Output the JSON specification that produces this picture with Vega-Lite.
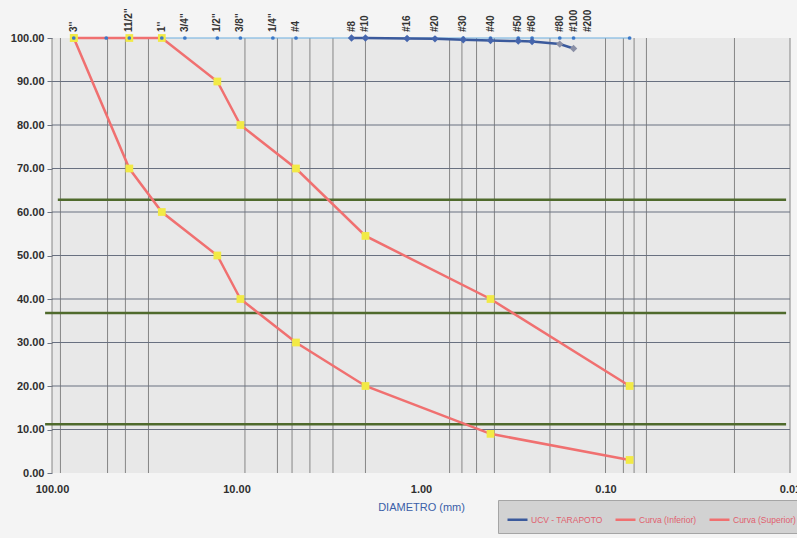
{
  "$schema": "https://vega.github.io/schema/vega-lite/v6.json",
  "width": 738,
  "height": 435,
  "autosize": {"type": "none"},
  "padding": {"left": 52, "top": 38, "right": 7, "bottom": 65},
  "background": "#f4f4f4",
  "config": {"view": {"fill": "#e8e8e8", "stroke": null}, "font": "Liberation Sans"},
  "datasets": {
    "vgrid": [
      {"mm": 100}, {"mm": 90}, {"mm": 50}, {"mm": 40}, {"mm": 30},
      {"mm": 9}, {"mm": 6}, {"mm": 5}, {"mm": 4}, {"mm": 3}, {"mm": 2},
      {"mm": 0.7}, {"mm": 0.6}, {"mm": 0.5}, {"mm": 0.4}, {"mm": 0.2},
      {"mm": 0.1}, {"mm": 0.08}, {"mm": 0.07}, {"mm": 0.06}, {"mm": 0.02}, {"mm": 0.01}
    ],
    "hgrid": [
      {"pasa": 10}, {"pasa": 20}, {"pasa": 30}, {"pasa": 40}, {"pasa": 50},
      {"pasa": 60}, {"pasa": 70}, {"pasa": 80}, {"pasa": 90}
    ],
    "green": [
      {"pasa": 62.8, "mm": 93, "mm2": 0.0105},
      {"pasa": 36.8, "mm": 109, "mm2": 0.0105},
      {"pasa": 11.2, "mm": 109, "mm2": 0.0105}
    ],
    "sieves": [
      {"label": "3''", "mm": 76.2, "pasa": 100},
      {"label": "", "mm": 50.8, "pasa": 100},
      {"label": "11/2''", "mm": 38.1, "pasa": 100},
      {"label": "1''", "mm": 25.4, "pasa": 100},
      {"label": "3/4''", "mm": 19.05, "pasa": 100},
      {"label": "1/2''", "mm": 12.7, "pasa": 100},
      {"label": "3/8''", "mm": 9.525, "pasa": 100},
      {"label": "1/4''", "mm": 6.35, "pasa": 100},
      {"label": "#4", "mm": 4.76, "pasa": 100},
      {"label": "#8", "mm": 2.38, "pasa": 100},
      {"label": "#10", "mm": 2.0, "pasa": 100},
      {"label": "#16", "mm": 1.19, "pasa": 100},
      {"label": "#20", "mm": 0.84, "pasa": 100},
      {"label": "#30", "mm": 0.59, "pasa": 100},
      {"label": "#40", "mm": 0.42, "pasa": 100},
      {"label": "#50", "mm": 0.297, "pasa": 100},
      {"label": "#60", "mm": 0.25, "pasa": 100},
      {"label": "#80", "mm": 0.177, "pasa": 100},
      {"label": "#100", "mm": 0.149, "pasa": 100},
      {"label": "#200", "mm": 0.074, "pasa": 100}
    ],
    "series": [
      {"serie": "UCV - TARAPOTO", "mm": 2.38, "pasa": 100},
      {"serie": "UCV - TARAPOTO", "mm": 2.0, "pasa": 100},
      {"serie": "UCV - TARAPOTO", "mm": 1.19, "pasa": 99.9},
      {"serie": "UCV - TARAPOTO", "mm": 0.84, "pasa": 99.8},
      {"serie": "UCV - TARAPOTO", "mm": 0.59, "pasa": 99.6},
      {"serie": "UCV - TARAPOTO", "mm": 0.42, "pasa": 99.4},
      {"serie": "UCV - TARAPOTO", "mm": 0.297, "pasa": 99.3},
      {"serie": "UCV - TARAPOTO", "mm": 0.25, "pasa": 99.2},
      {"serie": "UCV - TARAPOTO", "mm": 0.177, "pasa": 98.6},
      {"serie": "UCV - TARAPOTO", "mm": 0.149, "pasa": 97.6},
      {"serie": "Curva (Inferior)", "mm": 76.2, "pasa": 100},
      {"serie": "Curva (Inferior)", "mm": 38.1, "pasa": 70},
      {"serie": "Curva (Inferior)", "mm": 25.4, "pasa": 60},
      {"serie": "Curva (Inferior)", "mm": 12.7, "pasa": 50},
      {"serie": "Curva (Inferior)", "mm": 9.525, "pasa": 40},
      {"serie": "Curva (Inferior)", "mm": 4.76, "pasa": 30},
      {"serie": "Curva (Inferior)", "mm": 2.0, "pasa": 20},
      {"serie": "Curva (Inferior)", "mm": 0.42, "pasa": 9},
      {"serie": "Curva (Inferior)", "mm": 0.074, "pasa": 3},
      {"serie": "Curva (Superior)", "mm": 76.2, "pasa": 100},
      {"serie": "Curva (Superior)", "mm": 38.1, "pasa": 100},
      {"serie": "Curva (Superior)", "mm": 25.4, "pasa": 100},
      {"serie": "Curva (Superior)", "mm": 12.7, "pasa": 90},
      {"serie": "Curva (Superior)", "mm": 9.525, "pasa": 80},
      {"serie": "Curva (Superior)", "mm": 4.76, "pasa": 70},
      {"serie": "Curva (Superior)", "mm": 2.0, "pasa": 54.5},
      {"serie": "Curva (Superior)", "mm": 0.42, "pasa": 40},
      {"serie": "Curva (Superior)", "mm": 0.074, "pasa": 20}
    ]
  },
  "layer": [
    {
      "data": {"name": "vgrid"},
      "mark": {"type": "rule", "color": "#7a7a7a", "strokeWidth": 0.9},
      "encoding": {
        "x": {
          "field": "mm",
          "type": "quantitative",
          "scale": {"type": "log", "domain": [0.01, 100], "reverse": true, "nice": false},
          "axis": {
            "values": [100, 10, 1, 0.1, 0.01],
            "format": ".2f",
            "grid": false,
            "ticks": false,
            "domain": false,
            "labelFlush": false,
            "labelOverlap": false,
            "labelPadding": 10,
            "labelFontSize": 11,
            "labelFontWeight": "bold",
            "labelColor": "#2e2e2e",
            "title": "DIAMETRO (mm)",
            "titleFontSize": 11,
            "titleFontWeight": "normal",
            "titleColor": "#3a5ea8",
            "titlePadding": 7
          }
        }
      }
    },
    {
      "data": {"name": "hgrid"},
      "mark": {"type": "rule", "color": "#687080", "strokeWidth": 1},
      "encoding": {
        "y": {
          "field": "pasa",
          "type": "quantitative",
          "scale": {"domain": [0, 100], "nice": false, "zero": false},
          "axis": {
            "values": [0, 10, 20, 30, 40, 50, 60, 70, 80, 90, 100],
            "format": ".2f",
            "grid": false,
            "domain": false,
            "tickSize": 5,
            "tickColor": "#6b7383",
            "labelPadding": 3,
            "labelFontSize": 11,
            "labelFontWeight": "bold",
            "labelColor": "#2e2e2e",
            "title": null
          }
        }
      }
    },
    {
      "data": {"name": "green"},
      "mark": {"type": "rule", "color": "#4f6a2c", "strokeWidth": 2.5},
      "encoding": {
        "x": {"field": "mm", "type": "quantitative", "scale": {"type": "log", "domain": [0.01, 100], "reverse": true, "nice": false}},
        "x2": {"field": "mm2"},
        "y": {"field": "pasa", "type": "quantitative", "scale": {"domain": [0, 100], "nice": false, "zero": false}}
      }
    },
    {
      "data": {"name": "sieves"},
      "mark": {"type": "line", "color": "#6aaee0", "strokeWidth": 1.2},
      "encoding": {
        "x": {"field": "mm", "type": "quantitative", "scale": {"type": "log", "domain": [0.01, 100], "reverse": true, "nice": false}},
        "y": {"field": "pasa", "type": "quantitative", "scale": {"domain": [0, 100], "nice": false, "zero": false}}
      }
    },
    {
      "data": {"name": "series"},
      "mark": {"type": "line", "strokeWidth": 2.5},
      "encoding": {
        "x": {"field": "mm", "type": "quantitative", "scale": {"type": "log", "domain": [0.01, 100], "reverse": true, "nice": false}},
        "y": {"field": "pasa", "type": "quantitative", "scale": {"domain": [0, 100], "nice": false, "zero": false}},
        "color": {
          "field": "serie",
          "type": "nominal",
          "scale": {
            "domain": ["UCV - TARAPOTO", "Curva (Inferior)", "Curva (Superior)"],
            "range": ["#3b5a9c", "#f07070", "#f07070"]
          },
          "legend": {
            "orient": "none",
            "legendX": 446,
            "legendY": 462,
            "direction": "horizontal",
            "title": null,
            "fillColor": "#d2d2d2",
            "strokeColor": "#a5a5a5",
            "padding": 8,
            "symbolType": "stroke",
            "symbolSize": 400,
            "symbolStrokeWidth": 2.5,
            "labelFontSize": 8.5,
            "labelColor": "#e0606e",
            "labelOffset": 2,
            "columnPadding": 7,
            "labelLimit": 200
          }
        }
      }
    },
    {
      "data": {"name": "series"},
      "transform": [{"filter": "datum.serie != 'UCV - TARAPOTO'"}],
      "mark": {"type": "square", "filled": true, "color": "#f2ea45", "size": 60, "opacity": 1},
      "encoding": {
        "x": {"field": "mm", "type": "quantitative", "scale": {"type": "log", "domain": [0.01, 100], "reverse": true, "nice": false}},
        "y": {"field": "pasa", "type": "quantitative", "scale": {"domain": [0, 100], "nice": false, "zero": false}}
      }
    },
    {
      "data": {"name": "sieves"},
      "mark": {"type": "circle", "color": "#3a78c8", "size": 14, "opacity": 1},
      "encoding": {
        "x": {"field": "mm", "type": "quantitative", "scale": {"type": "log", "domain": [0.01, 100], "reverse": true, "nice": false}},
        "y": {"field": "pasa", "type": "quantitative", "scale": {"domain": [0, 100], "nice": false, "zero": false}}
      }
    },
    {
      "data": {"name": "series"},
      "transform": [{"filter": "datum.serie == 'UCV - TARAPOTO'"}],
      "mark": {"type": "point", "shape": "diamond", "filled": true, "size": 55, "opacity": 1},
      "encoding": {
        "x": {"field": "mm", "type": "quantitative", "scale": {"type": "log", "domain": [0.01, 100], "reverse": true, "nice": false}},
        "y": {"field": "pasa", "type": "quantitative", "scale": {"domain": [0, 100], "nice": false, "zero": false}},
        "fill": {"condition": {"test": "datum.mm < 0.2", "value": "#8b90a6"}, "value": "#4666ad"}
      }
    },
    {
      "data": {"name": "sieves"},
      "transform": [{"filter": "datum.label != '' && datum.label != '#200'"}],
      "mark": {"type": "text", "angle": 270, "align": "left", "baseline": "middle", "dx": 6, "fontSize": 10, "fontWeight": "bold", "color": "#333333"},
      "encoding": {
        "x": {"field": "mm", "type": "quantitative", "scale": {"type": "log", "domain": [0.01, 100], "reverse": true, "nice": false}},
        "y": {"field": "pasa", "type": "quantitative", "scale": {"domain": [0, 100], "nice": false, "zero": false}},
        "text": {"field": "label"}
      }
    },
    {
      "data": {"name": "sieves"},
      "transform": [{"filter": "datum.label == '#200'"}],
      "mark": {"type": "text", "angle": 270, "align": "left", "baseline": "middle", "dx": 6, "dy": -42, "fontSize": 10, "fontWeight": "bold", "color": "#333333"},
      "encoding": {
        "x": {"field": "mm", "type": "quantitative", "scale": {"type": "log", "domain": [0.01, 100], "reverse": true, "nice": false}},
        "y": {"field": "pasa", "type": "quantitative", "scale": {"domain": [0, 100], "nice": false, "zero": false}},
        "text": {"field": "label"}
      }
    }
  ]
}
